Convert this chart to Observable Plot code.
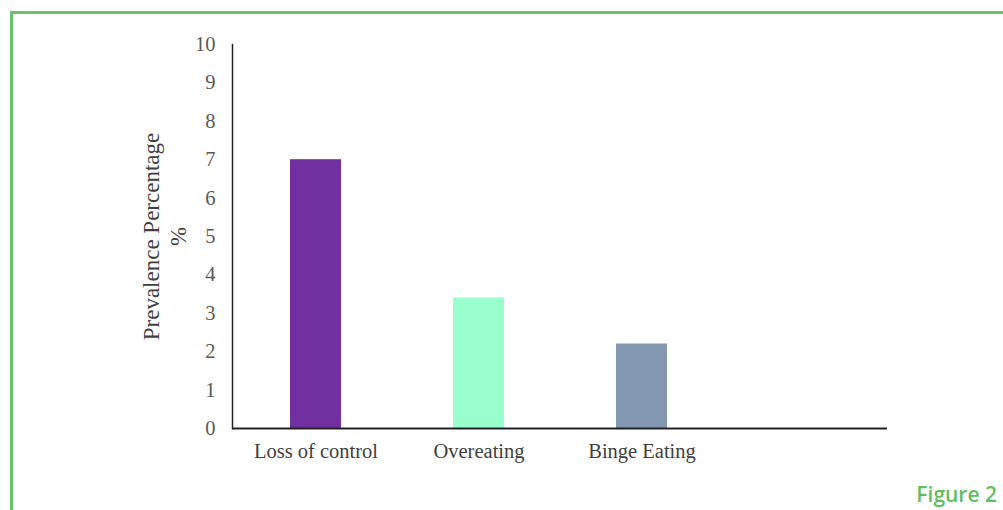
<!DOCTYPE html>
<html>
<head>
<meta charset="utf-8">
<script src="https://cdn.jsdelivr.net/npm/d3@7"></script>
<script src="https://cdn.jsdelivr.net/npm/@observablehq/plot@0.6"></script>
<style>
  html, body { margin: 0; padding: 0; background: #fff; }
  #wrap { position: relative; width: 1003px; height: 510px; overflow: hidden; background: #fff; }
  #wrap svg { position: absolute; left: 0; top: 0; }
  .fl { position: absolute; background: #68c466; }
  #fig { position: absolute; right: 6px; top: 484px; font-family: "Open Sans", sans-serif; font-weight: 600; font-size: 21px; color: #5fbf5d; line-height: 1; }
</style>
</head>
<body>
<div id="wrap">
  <div class="fl" style="left:10px; top:11px; width:3px; height:499px;"></div>
  <div class="fl" style="left:10px; top:11px; width:993px; height:3px;"></div>
  <div id="fig">Figure 2</div>
</div>
<script>
const categories = ["Loss of control", "Overeating", "Binge Eating", " "];
const values = [7, 3.4, 2.2];
const colors = ["#7030a0", "#99ffcc", "#8497b0"];
const yTicks = [0, 1, 2, 3, 4, 5, 6, 7, 8, 9, 10];
const yLabel = "Prevalence Percentage\n%";

const data = values.map((v, i) => ({cat: categories[i], value: v, color: colors[i]}));

const chart = Plot.plot({
  width: 1003,
  height: 510,
  marginLeft: 232,
  marginRight: 116,
  marginTop: 44,
  marginBottom: 82,
  style: {fontFamily: "'Liberation Serif', 'Times New Roman', serif", background: "transparent"},
  x: {domain: categories, paddingInner: 0.69, paddingOuter: 0.345, label: null},
  y: {domain: [0, 10], label: null},
  marks: [
    Plot.barY(data, {x: "cat", y: "value", fill: "color"}),
    Plot.axisY({ticks: yTicks, tickSize: 0, tickPadding: 17, fontSize: 20.5, fill: "#595959", label: null}),
    Plot.axisX({tickSize: 0, tickPadding: 15, fontSize: 20.5, fill: "#404040", label: null}),
    Plot.ruleY([0], {stroke: "#222", strokeWidth: 2}),
    Plot.frame({anchor: "left", stroke: "#222", strokeWidth: 1.5}),
    Plot.text([yLabel], {frameAnchor: "left", rotate: -90, textAnchor: "middle", lineAnchor: "middle", dx: -69, fontSize: 23, fill: "#404040", lineHeight: 1.2})
  ]
});
document.getElementById("wrap").prepend(chart);
</script>
</body>
</html>
